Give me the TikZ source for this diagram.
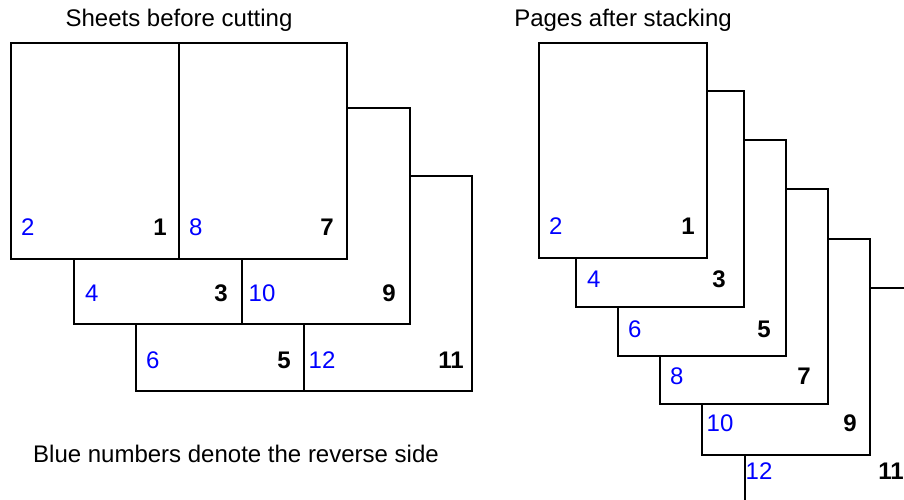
\documentclass[tikz,border=0pt]{standalone}
\usepackage{fontspec}
\setmainfont{Liberation Sans}
\begin{document}
\begin{tikzpicture}[x=1pt,y=-1pt,
  sheet/.style={draw=black,line width=2pt,fill=white},
  cut/.style={draw=black,line width=2pt},
  txt/.style={inner sep=0pt,font=\fontsize{24}{28}\selectfont},
  rev/.style={txt,text=blue,anchor=base west},
  fro/.style={txt,text=black,anchor=base east,font=\fontsize{24}{28}\selectfont\bfseries}]
\useasboundingbox (0,0) rectangle (904,500);
\clip (0,0) rectangle (904,500);
% titles
\node[txt,anchor=base] (t1) at (179,27) {Sheets before cutting};
\node[txt,anchor=base] (t2) at (623,27) {Pages after stacking};
\node[txt,anchor=base west] (note) at (33,462) {Blue numbers denote the reverse side};
% left: sheets (back to front)
\path[sheet] (136,176) rectangle (472,391);
\draw[cut] (304,176) -- (304,391);
\path[sheet] (74,108) rectangle (410,324);
\draw[cut] (242,108) -- (242,324);
\path[sheet] (11,43) rectangle (347,259);
\draw[cut] (179,43) -- (179,259);
\node[rev] (s2) at (21,235) {2};
\node[fro] (s1) at (167,235) {1};
\node[rev] (s8) at (189,235) {8};
\node[fro] (s7) at (334,235) {7};
\node[rev] (s4) at (85,301) {4};
\node[fro] (s3) at (228,301) {3};
\node[rev] (s10) at (248.5,301) {10};
\node[fro] (s9) at (396,301) {9};
\node[rev] (s6) at (146,368) {6};
\node[fro] (s5) at (291,368) {5};
\node[rev] (s12) at (308.5,368) {12};
\node[fro] (s11) at (464,368) {11};
% right: pages (back to front)
\path[sheet] (745,288) rectangle (913,504);
\path[sheet] (702,239) rectangle (870,455);
\path[sheet] (660,189) rectangle (828,404);
\path[sheet] (618,140) rectangle (786,356);
\path[sheet] (576,91) rectangle (744,307);
\path[sheet] (539,43) rectangle (707,258);
\node[rev] (p2) at (549,234) {2};
\node[fro] (p1) at (695,234) {1};
\node[rev] (p4) at (587,287) {4};
\node[fro] (p3) at (726,287) {3};
\node[rev] (p6) at (628,337) {6};
\node[fro] (p5) at (771,337) {5};
\node[rev] (p8) at (670,384) {8};
\node[fro] (p7) at (811,384) {7};
\node[rev] (p10) at (706.5,431) {10};
\node[fro] (p9) at (857,431) {9};
\node[rev] (p12) at (745.5,479) {12};
\node[fro] (p11) at (904,479) {11};
\end{tikzpicture}
\end{document}
